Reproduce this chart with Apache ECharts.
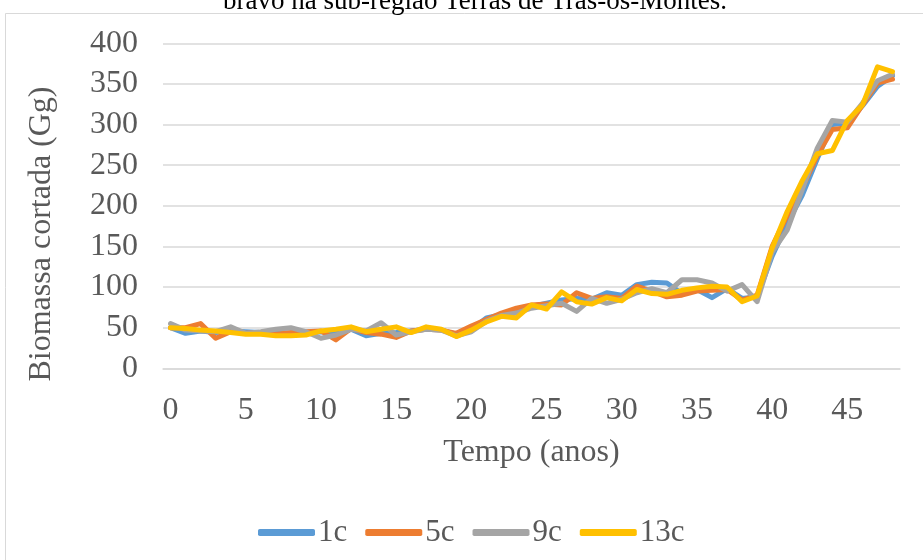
<!DOCTYPE html>
<html>
<head>
<meta charset="utf-8">
<script src="https://cdn.jsdelivr.net/npm/echarts@6/dist/echarts.min.js"></script>
<style>
  html, body { margin: 0; padding: 0; background: #fff; }
  #chart { width: 923px; height: 560px; }
</style>
</head>
<body>
<div id="chart"></div>
<script>
// dados
var anos = [];
for (var i = 0; i <= 48; i++) anos.push(String(i));

var s1c = [50,43,46,44,46,45,44,44,43,44,45,44,48,40,43,44,46,48,47,42,48,62,66,70,76,80,84,86,85,93,90,103,106,105,92,97,87,98,86,88,138,178,213,258,300,302,323,347,360];
var s5c = [50,50,55,37,45,43,44,42,44,45,46,35,49,44,42,38,46,48,47,43,52,60,68,74,78,79,78,93,86,88,86,101,95,88,90,95,96,97,84,90,150,188,222,262,294,296,324,351,356];
var s9c = [55,47,46,45,51,43,45,48,50,45,37,41,48,46,56,41,45,48,47,40,45,58,65,68,74,77,80,70,86,80,85,93,98,93,109,109,105,95,103,82,143,170,220,271,305,303,326,354,362];
var s13c = [50,49,47,46,44,42,42,40,40,41,46,48,51,45,48,51,44,51,48,39,47,57,64,62,78,73,94,82,79,87,83,97,92,91,96,99,101,100,82,89,148,193,231,264,268,305,324,371,365];

var nomes = ['1c', '5c', '9c', '13c'];
var cores = ['#5B9BD5', '#ED7D31', '#A5A5A5', '#FFC000'];
var dados = [s1c, s5c, s9c, s13c];

var fonte = '"Liberation Serif", "Times New Roman", serif';

var chart = echarts.init(document.getElementById('chart'));

var series = [];
for (var k = 0; k < nomes.length; k++) {
  series.push({
    name: nomes[k],
    type: 'line',
    data: dados[k],
    symbol: 'none',
    lineStyle: { color: cores[k], width: 5, join: 'round', cap: 'round' },
    itemStyle: { color: cores[k] }
  });
}

var option = {
  animation: false,
  backgroundColor: '#fff',
  graphic: [
    // moldura do gráfico
    {
      type: 'rect',
      shape: { x: 5.5, y: 13.5, width: 930, height: 560 },
      style: { fill: 'none', stroke: '#d9d9d9', lineWidth: 1 }
    },
    // título cortado no topo
    {
      type: 'text',
      x: 475,
      y: -12,
      style: {
        text: 'bravo na sub-região Terras de Trás-os-Montes.',
        font: '27px ' + fonte,
        fill: '#000',
        textAlign: 'center'
      }
    },
    // título do eixo y
    {
      type: 'text',
      x: 42,
      y: 234,
      rotation: Math.PI / 2,
      style: {
        text: 'Biomassa cortada (Gg)',
        font: '32px ' + fonte,
        fill: '#595959',
        textAlign: 'center',
        textVerticalAlign: 'middle'
      }
    }
  ],
  legend: {
    data: nomes,
    left: 253,
    top: 512,
    icon: 'roundRect',
    itemWidth: 57,
    itemHeight: 7,
    itemGap: 18,
    textStyle: { fontFamily: fonte, fontSize: 31, color: '#595959', padding: [0, 0, 0, -2] }
  },
  grid: { left: 163, right: 23, top: 43.3, bottom: 191.7 },
  xAxis: {
    type: 'category',
    data: anos,
    boundaryGap: true,
    name: 'Tempo (anos)',
    nameLocation: 'middle',
    nameGap: 68,
    nameTextStyle: { fontFamily: fonte, fontSize: 32, color: '#595959' },
    axisLine: { lineStyle: { color: '#d9d9d9', width: 1.5 } },
    axisTick: { show: false },
    axisLabel: { interval: 4, fontFamily: fonte, fontSize: 32, color: '#595959', margin: 26 }
  },
  yAxis: {
    type: 'value',
    min: 0,
    max: 400,
    interval: 50,
    axisLine: { show: false },
    axisTick: { show: false },
    axisLabel: { fontFamily: fonte, fontSize: 32, color: '#595959', margin: 25 },
    splitLine: { lineStyle: { color: '#d9d9d9', width: 1.5 } }
  },
  series: series
};

chart.setOption(option);
</script>
</body>
</html>
